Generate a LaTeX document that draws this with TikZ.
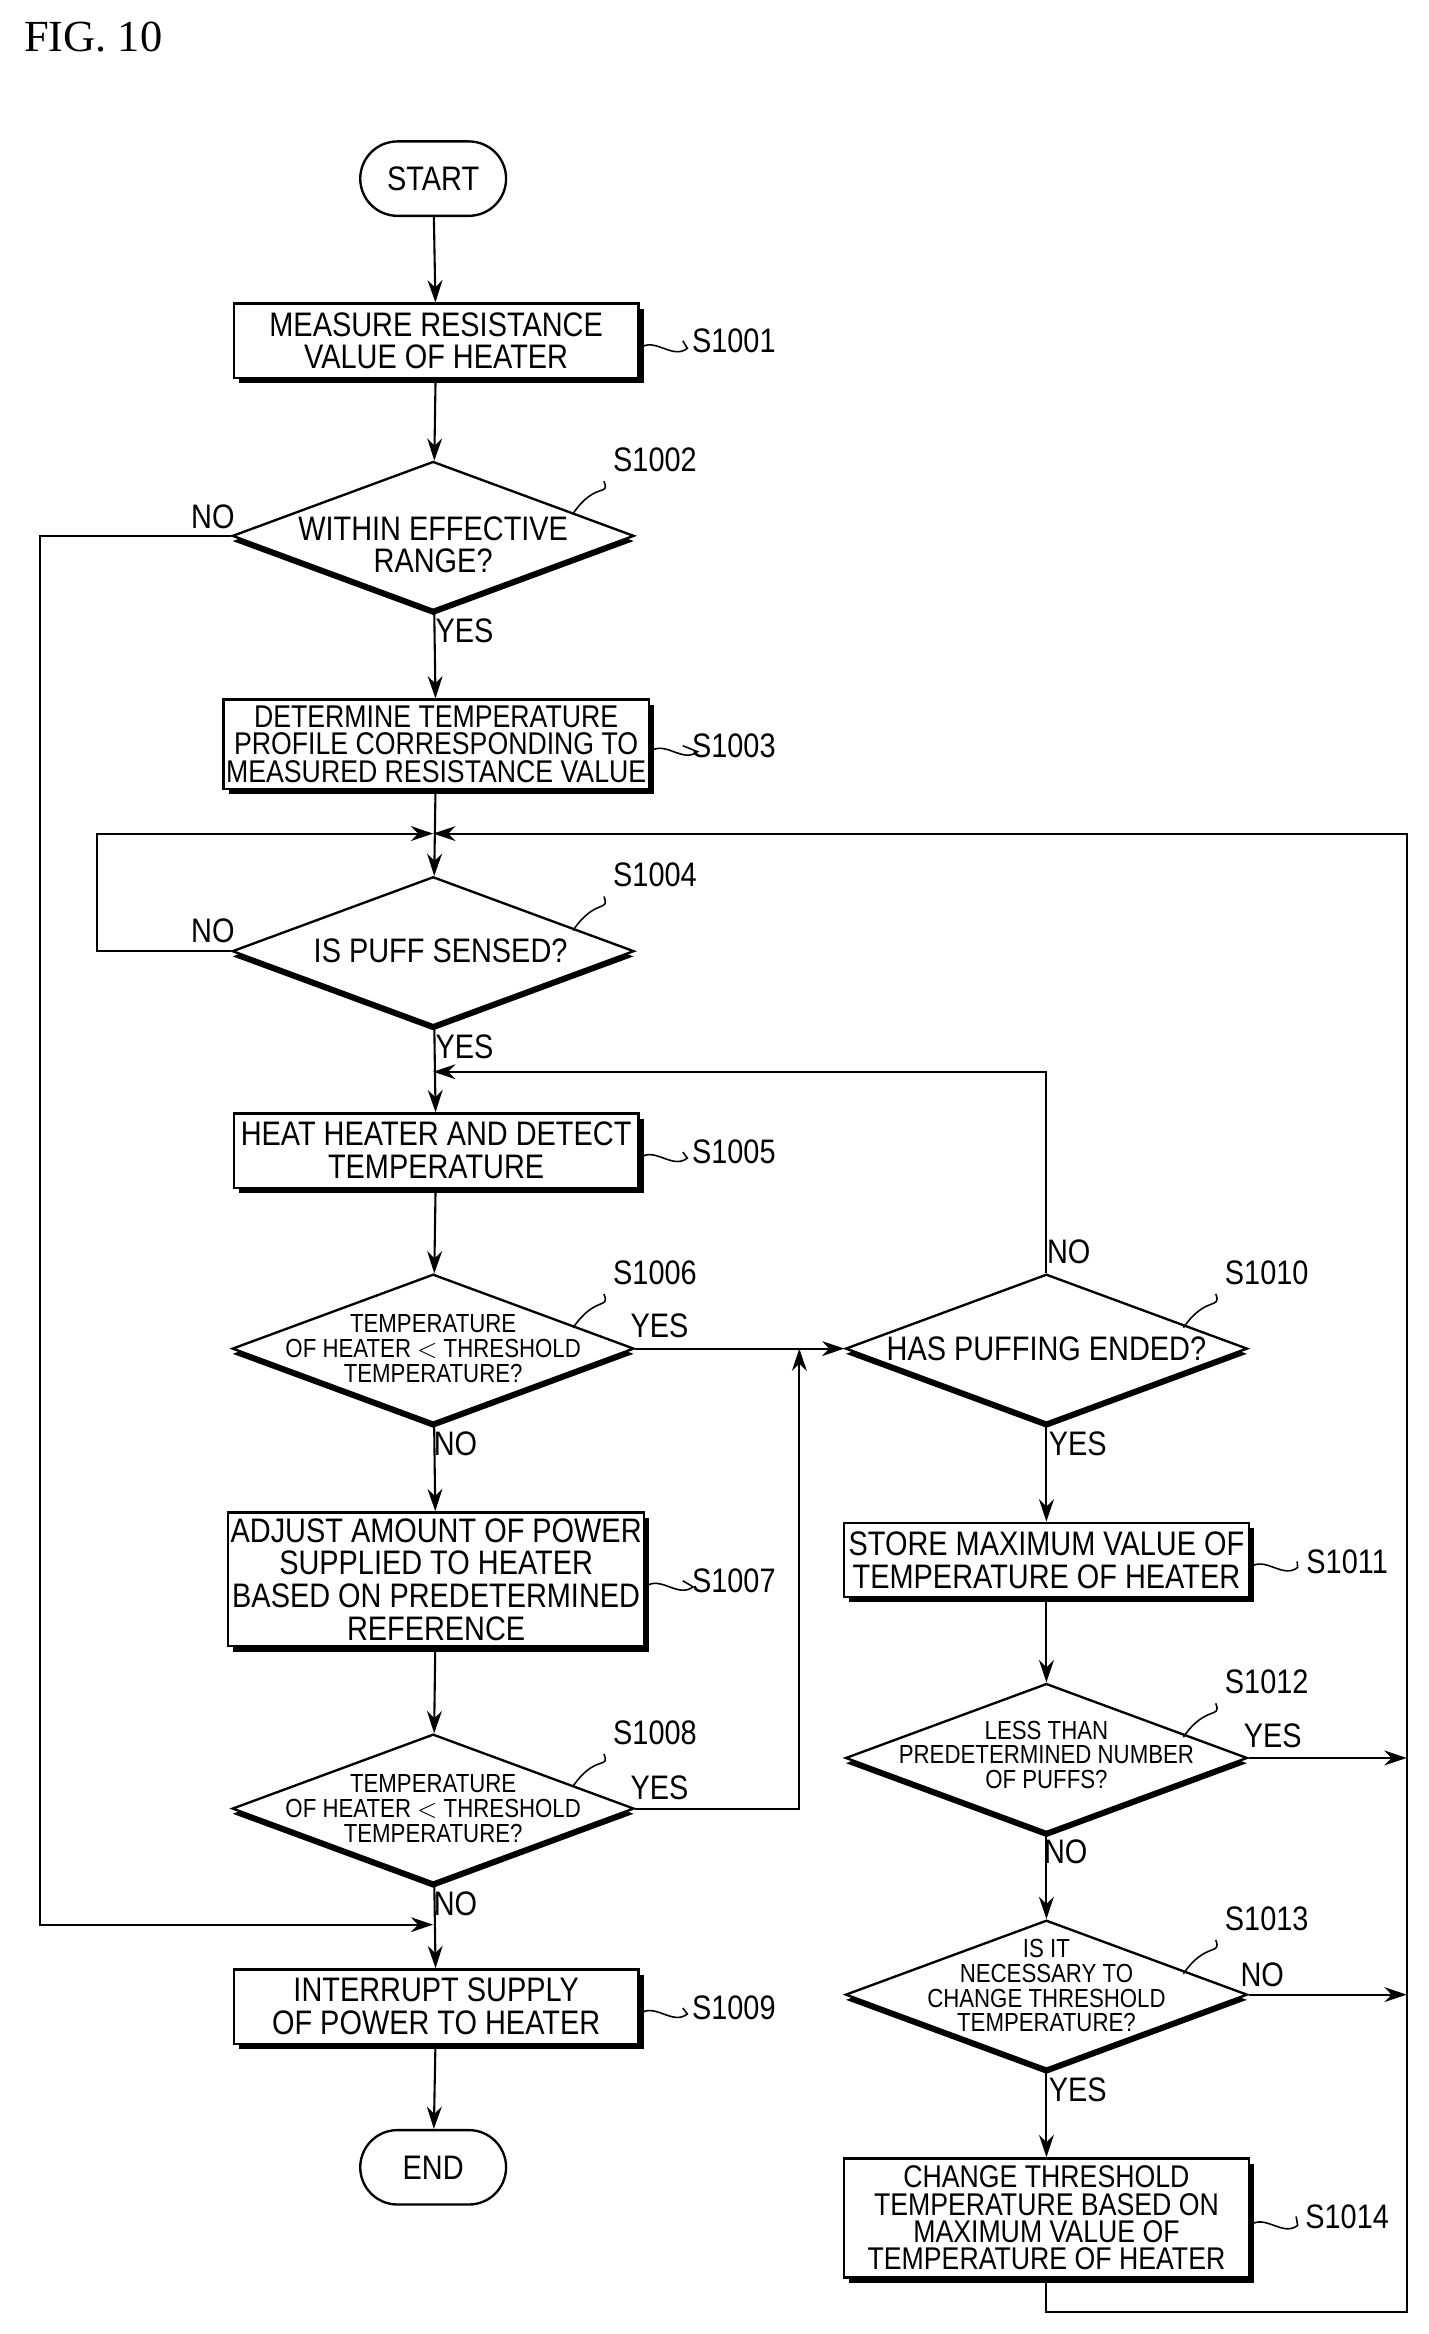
\documentclass[tikz,border=0pt]{standalone}
\usepackage{fontspec}
\setmainfont{Liberation Serif}
\setsansfont[FakeStretch=0.85]{Liberation Sans}
\usetikzlibrary{shapes.geometric,shadows,arrows.meta}
\tikzset{
  flow/.style={-{Stealth[length=3mm,width=2mm]}, line width=0.8pt},
  box/.style={draw, line width=0.9pt, fill=white, minimum width=5.44cm, align=center,
    font=\sffamily\fontsize{13}{12.5}\selectfont, inner sep=1pt,
    drop shadow={shadow xshift=0.7mm, shadow yshift=-0.7mm, fill=black, opacity=1}},
  term/.style={draw, line width=0.9pt, rounded corners=0.5cm, minimum width=1.96cm, minimum height=1cm,
    font=\sffamily\fontsize{13}{13}\selectfont},
  dia/.style={diamond, draw, line width=0.9pt, fill=white, minimum width=5.4cm, minimum height=2cm, inner sep=0,
    drop shadow={shadow xshift=0mm, shadow yshift=-0.7mm, fill=black, opacity=1}},
  dtext/.style={align=center, font=\sffamily\fontsize{13}{12.5}\selectfont},
  stext/.style={align=center, font=\sffamily\fontsize{10}{9.5}\selectfont},
  lab/.style={font=\sffamily\fontsize{13}{13}\selectfont},
}
\begin{document}
\begin{tikzpicture}[x=0.02cm, y=-0.02cm]
  \useasboundingbox (0,0) rectangle (960,1568);
  \node[font=\fontsize{17}{17}\selectfont, anchor=west] (fig) at (10,25) {FIG. 10};

  % left column
  \node[term] (start) at (291,120) {START};
  \node[box, minimum height=1cm] (s1001) at (293,229) {MEASURE RESISTANCE\\VALUE OF HEATER};
  \node[dia] (d1002) at (291,360) {};
  \node[dtext] (t1002) at (291,366) {WITHIN EFFECTIVE\\RANGE?};
  \node[box, minimum height=1.2cm, font=\sffamily\fontsize{12}{10.5}\selectfont] (s1003) at (293,500) {DETERMINE TEMPERATURE\\PROFILE CORRESPONDING TO\\MEASURED RESISTANCE VALUE};
  \node[dia] (d1004) at (291,639) {};
  \node[dtext] (t1004) at (296,639) {IS PUFF SENSED?};
  \node[box, minimum height=1cm] (s1005) at (293,773) {HEAT HEATER AND DETECT\\TEMPERATURE};
  \node[dia] (d1006) at (291,906) {};
  \node[stext] (t1006) at (291,906) {TEMPERATURE\\OF HEATER $<$ THRESHOLD\\TEMPERATURE?};
  \node[box, minimum height=1.8cm] (s1007) at (293,1061) {ADJUST AMOUNT OF POWER\\SUPPLIED TO HEATER\\BASED ON PREDETERMINED\\REFERENCE};
  \node[dia] (d1008) at (291,1215) {};
  \node[stext] (t1008) at (291,1215) {TEMPERATURE\\OF HEATER $<$ THRESHOLD\\TEMPERATURE?};
  \node[box, minimum height=1cm] (s1009) at (293,1348) {INTERRUPT SUPPLY\\OF POWER TO HEATER};
  \node[term] (end) at (291,1456) {END};

  % right column
  \node[dia] (d1010) at (703,906) {};
  \node[dtext] (t1010) at (703,906) {HAS PUFFING ENDED?};
  \node[box, minimum height=1cm] (s1011) at (703,1048) {STORE MAXIMUM VALUE OF\\TEMPERATURE OF HEATER};
  \node[dia] (d1012) at (703,1181) {};
  \node[stext] (t1012) at (703,1179) {LESS THAN\\PREDETERMINED NUMBER\\OF PUFFS?};
  \node[dia] (d1013) at (703,1340) {};
  \node[stext] (t1013) at (703,1334) {IS IT\\NECESSARY TO\\CHANGE THRESHOLD\\TEMPERATURE?};
  \node[box, minimum height=1.6cm, font=\sffamily\fontsize{12}{10.5}\selectfont] (s1014) at (703,1490) {CHANGE THRESHOLD\\TEMPERATURE BASED ON\\MAXIMUM VALUE OF\\TEMPERATURE OF HEATER};

  % step labels
  \foreach \n/\x/\y in {1001/493/229, 1003/493/501, 1005/493/774, 1007/493/1062, 1009/493/1349, 1011/905/1049, 1014/905/1489}{
    \node[lab] (ls\n) at (\x,\y) {S\n};
    \draw[line width=0.6pt] (s\n.east) ++(0,5) .. controls +(10,-8) and +(-10,8) .. +(32,0) -- (ls\n.west);
  }
  \foreach \n/\x/\y/\px/\py in {1002/440/309/385/345, 1004/440/588/385/625, 1006/440/855/385/892, 1008/440/1164/385/1200, 1010/851/855/795/892, 1012/851/1130/795/1167, 1013/851/1289/795/1326}{
    \node[lab] (ld\n) at (\x,\y) {S\n};
    \coordinate (pd\n) at (\px,\py);
    \draw[line width=0.6pt] (pd\n) .. controls (\px+15,\py-22) and (\x-30,\y+25) .. (ld\n.south west);
  }

  % connectors
  \draw[flow] (start) -- (s1001);
  \draw[flow] (s1001) -- (d1002);
  \draw[flow] (d1002) -- (s1003);
  \draw[flow] (s1003) -- (d1004);
  \draw[flow] (d1004) -- (s1005);
  \draw[flow] (s1005) -- (d1006);
  \draw[flow] (d1006) -- (s1007);
  \draw[flow] (s1007) -- (d1008);
  \draw[flow] (d1008) -- (s1009);
  \draw[flow] (s1009) -- (end);
  \draw[flow] (d1010) -- (s1011);
  \draw[flow] (s1011) -- (d1012);
  \draw[flow] (d1012) -- (d1013);
  \draw[flow] (d1013) -- (s1014);

  \coordinate (j560) at (291,560);
  \coordinate (j720) at (291,720);
  \coordinate (j906) at (537,906);
  \coordinate (j1293) at (291,1293);
  \draw[flow] (d1002.west) -- (27,360) |- (j1293);
  \draw[flow] (d1004.west) -- (65,639) |- (j560);
  \draw[flow] (d1006.east) -- (d1010.west);
  \draw[flow] (d1008.east) -| (j906);
  \draw[flow] (d1010.north) |- (j720);
  \draw[flow] (d1012.east) -- (945,1181);
  \draw[flow] (d1013.east) -- (945,1340);
  \draw[flow] (s1014.south) |- (945,1553) -- (945,560) -- (j560);

  % branch labels
  \node[lab] (n1) at (143,347) {NO};
  \node[lab] (y1) at (312,424) {YES};
  \node[lab] (n2) at (143,625) {NO};
  \node[lab] (y2) at (312,703) {YES};
  \node[lab] (y3) at (443,891) {YES};
  \node[lab] (n3) at (306,970) {NO};
  \node[lab] (y4) at (443,1201) {YES};
  \node[lab] (n4) at (306,1279) {NO};
  \node[lab] (n5) at (718,841) {NO};
  \node[lab] (y5) at (724,970) {YES};
  \node[lab] (y6) at (855,1166) {YES};
  \node[lab] (n6) at (716,1244) {NO};
  \node[lab] (n7) at (848,1327) {NO};
  \node[lab] (y7) at (724,1404) {YES};
\end{tikzpicture}
\end{document}
